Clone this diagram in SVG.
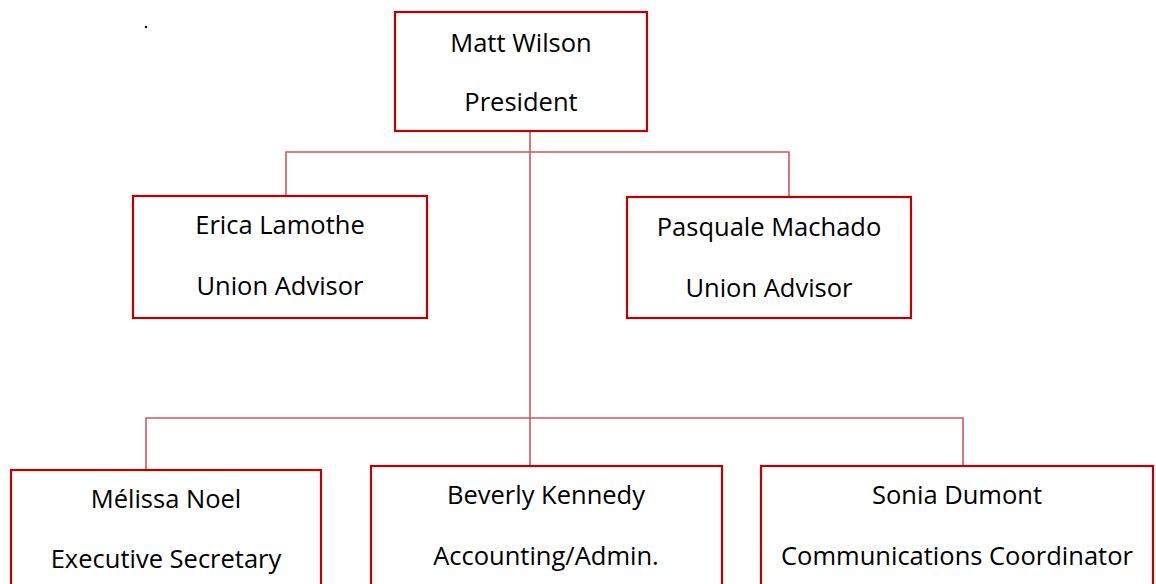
<svg xmlns="http://www.w3.org/2000/svg" width="1156" height="584" viewBox="0 0 1156 584">
<style>
.box{fill:#fff;stroke:#C00000;stroke-width:2.2}
.con{fill:none;stroke:#D0575A;stroke-width:1.6}
text{font-family:"Open Sans","Liberation Sans",sans-serif;font-size:25.5px;fill:#000;text-anchor:middle}
</style>
<rect width="1156" height="584" fill="#fff"/>
<circle cx="146" cy="27" r="1.2" fill="#000"/>
<g id="connectors">
<path class="con" d="M530 131 V466"/>
<path class="con" d="M286 196 V152 H789 V197"/>
<path class="con" d="M146 470 V418 H963 V466"/>
</g>
<g id="n-matt"><rect class="box" x="395" y="12" width="252" height="119"/><text x="521" y="52">Matt Wilson</text><text x="521" y="111">President</text></g>
<g id="n-erica"><rect class="box" x="133" y="196" width="294" height="122"/><text x="280" y="234">Erica Lamothe</text><text x="280" y="295">Union Advisor</text></g>
<g id="n-pasquale"><rect class="box" x="627" y="197" width="284" height="121"/><text x="769" y="236">Pasquale Machado</text><text x="769" y="297">Union Advisor</text></g>
<g id="n-melissa"><rect class="box" x="11" y="470" width="310" height="130"/><text x="166" y="508">Mélissa Noel</text><text x="166" y="568">Executive Secretary</text></g>
<g id="n-beverly"><rect class="box" x="371" y="466" width="351" height="130"/><text x="546" y="504">Beverly Kennedy</text><text x="546" y="565">Accounting/Admin.</text></g>
<g id="n-sonia"><rect class="box" x="761" y="466" width="392" height="130"/><text x="957" y="504">Sonia Dumont</text><text x="957" y="565">Communications Coordinator</text></g>
</svg>
